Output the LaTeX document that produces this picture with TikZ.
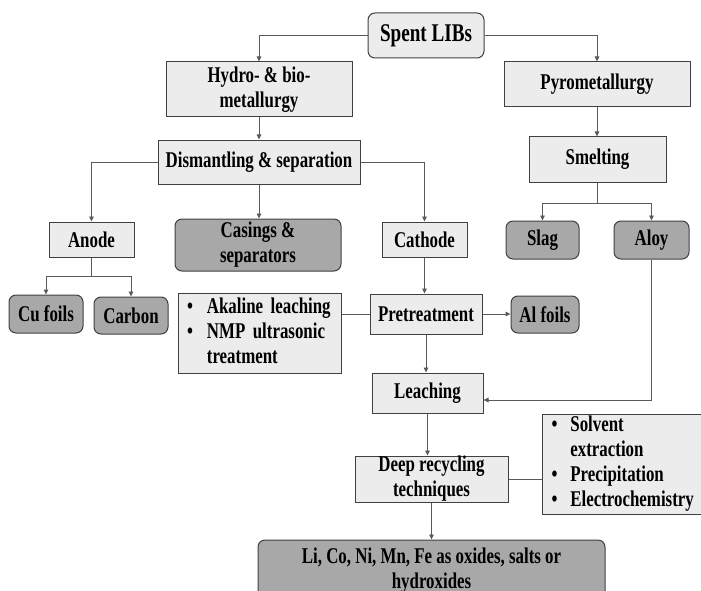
\documentclass[tikz,border=0pt]{standalone}
\usepackage{fontspec}
\setmainfont[FakeStretch=0.75]{Liberation Serif}
\usetikzlibrary{arrows.meta}
\definecolor{lightfill}{HTML}{ECECEC}
\definecolor{darkfill}{HTML}{A8A8A8}
\definecolor{bordercol}{HTML}{404040}
\definecolor{linecol}{HTML}{5A5A5A}
\tikzset{
  box/.style={draw=bordercol, fill=lightfill, line width=1pt, inner sep=0pt, align=center,
    font=\bfseries\fontsize{22.5}{25}\selectfont},
  rbox/.style={box, rounded corners=7pt},
  dbox/.style={box, rounded corners=7pt, fill=darkfill},
  lbox/.style={box, align=left, inner xsep=9pt},
  conn/.style={draw=linecol, line width=0.9pt},
  arr/.style={conn, -{Triangle[length=5pt,width=4.5pt]}},
}
\newcommand{\bl}{\textbullet}
\begin{document}
\begin{tikzpicture}[x=1pt,y=-1pt]
\useasboundingbox (0,0) rectangle (701,591);
\clip (0,0) rectangle (701,591);
\node[rbox, minimum width=116pt, minimum height=45pt, font=\bfseries\fontsize{25.5}{30}\selectfont] (spent) at (426,35.5) {Spent LIBs};
\node[box, minimum width=186pt, minimum height=55pt] (hydro) at (259,89.5) {Hydro- \& bio-\\metallurgy};
\node[box, minimum width=186pt, minimum height=45pt] (pyro) at (597,84.5) {Pyrometallurgy};
\node[box, minimum width=202pt, minimum height=44pt] (dism) at (259,162) {Dismantling \& separation};
\node[box, minimum width=137pt, minimum height=45pt] (smelt) at (597.5,159.5) {Smelting};
\node[box, minimum width=85pt, minimum height=35pt] (anode) at (91.5,239.5) {Anode};
\node[dbox, minimum width=166pt, minimum height=52pt] (casings) at (258,245) {Casings \&\\separators};
\node[box, minimum width=85pt, minimum height=35pt] (cathode) at (424.5,239.5) {Cathode};
\node[dbox, minimum width=73pt, minimum height=38pt] (slag) at (542.5,240) {Slag};
\node[dbox, minimum width=75pt, minimum height=38pt] (aloy) at (651.5,240) {Aloy};
\node[dbox, minimum width=74pt, minimum height=38pt] (cu) at (46,314) {Cu foils};
\node[dbox, minimum width=74pt, minimum height=37pt] (carbon) at (131,315.5) {Carbon};
\node[lbox, minimum width=163pt, minimum height=80pt, text width=145pt] (akal) at (259.5,333)
  {\begin{tabular}{@{}l@{\hspace{14pt}}l@{}}\bl & Akaline leaching\\ \bl & NMP ultrasonic\\ & treatment\end{tabular}};
\node[box, minimum width=112pt, minimum height=40pt] (pret) at (426,314) {Pretreatment};
\node[dbox, minimum width=68pt, minimum height=37pt] (al) at (545,314.5) {Al foils};
\node[box, minimum width=111pt, minimum height=40pt] (leach) at (427.5,393) {Leaching};
\node[box, minimum width=153pt, minimum height=46pt] (deep) at (431.5,479) {Deep recycling\\techniques};
\node[lbox, anchor=west, minimum width=170pt, minimum height=96pt, text width=152pt] (solv) at (542,464)
  {\begin{tabular}{@{}l@{\hspace{13pt}}l@{}}\bl & Solvent\\ & extraction\\ \bl & Precipitation\\ \bl & Electrochemistry\end{tabular}};
\node[dbox, minimum width=347pt, minimum height=62pt] (final) at (431.5,571) {Li, Co, Ni, Mn, Fe as oxides, salts or\\hydroxides};
% connectors
\draw[arr] (spent.west) -| (hydro.north);
\draw[arr] (spent.east) -| (pyro.north);
\draw[arr] (hydro.south) -- (dism.north);
\draw[arr] (pyro.south) -- (pyro.south |- smelt.north);
\draw[arr] (dism.west) -| (anode.north);
\draw[arr] (dism.south) -- (dism.south |- casings.north);
\draw[arr] (dism.east) -| (cathode.north);
\coordinate (sj) at (597.5,203);
\draw[conn] (smelt.south) -- (sj);
\draw[arr] (sj) -| (slag.north);
\draw[arr] (sj) -| (aloy.north);
\coordinate (aj) at (91.5,276);
\draw[conn] (anode.south) -- (aj);
\draw[arr] (aj) -| (cu.north);
\draw[arr] (aj) -| (carbon.north);
\draw[arr] (cathode.south) -- (cathode.south |- pret.north);
\draw[conn] (pret.west) -- (pret.west -| akal.east);
\draw[arr] (pret.east) -- (pret.east -| al.west);
\draw[arr] (pret.south) -- (pret.south |- leach.north);
\coordinate (lin) at ([yshift=-7pt]leach.east);
\draw[arr] (aloy.south) |- (lin);
\draw[arr] (leach.south) -- (leach.south |- deep.north);
\draw[conn] (deep.east) -- (deep.east -| solv.west);
\draw[arr] (deep.south) -- (deep.south |- final.north);
\end{tikzpicture}
\end{document}
